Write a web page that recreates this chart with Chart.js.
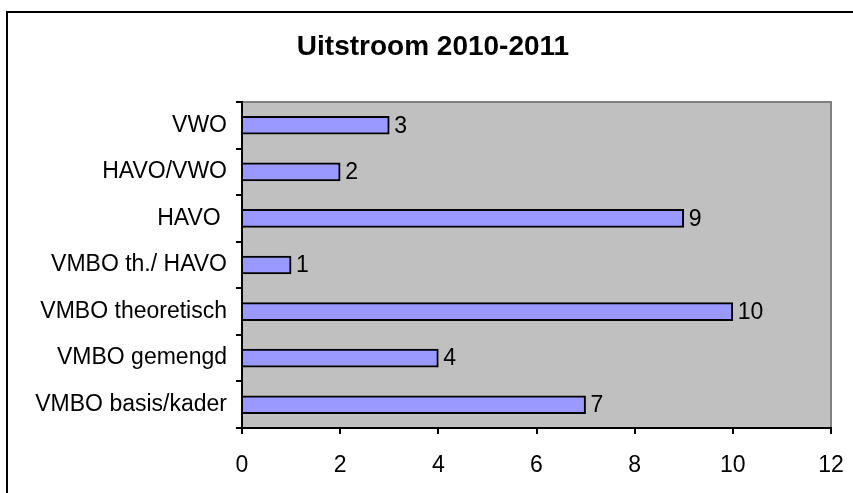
<!DOCTYPE html>
<html>
<head>
<meta charset="utf-8">
<script src="https://cdn.jsdelivr.net/npm/chart.js@4.4.1/dist/chart.umd.min.js"></script>
<style>
  html, body { margin: 0; padding: 0; background: #fff; }
  #chart { display: block; }
</style>
</head>
<body>
<canvas id="chart" width="853" height="493"></canvas>
<script>
  const categories = ['VWO', 'HAVO/VWO', 'HAVO ', 'VMBO th./ HAVO', 'VMBO theoretisch', 'VMBO gemengd', 'VMBO basis/kader'];
  const uitstroom = [3, 2, 9, 1, 10, 4, 7];
  const xTicks = [0, 2, 4, 6, 8, 10, 12];
  const titleText = 'Uitstroom 2010-2011';

  const FONT = "'Liberation Sans', Arial, sans-serif";

  // frame round the whole chart, grey plot area and the title
  const framePlugin = {
    id: 'frame',
    beforeDraw(chart) {
      const { ctx, chartArea: a } = chart;
      ctx.save();
      ctx.fillStyle = '#c0c0c0';
      ctx.fillRect(a.left, a.top, a.right - a.left, a.bottom - a.top);
      ctx.strokeStyle = '#808080';
      ctx.lineWidth = 2;
      ctx.beginPath();
      ctx.moveTo(a.left, a.top);
      ctx.lineTo(a.right, a.top);
      ctx.lineTo(a.right, a.bottom);
      ctx.stroke();
      ctx.strokeStyle = '#000';
      ctx.strokeRect(7, 12, 900, 600);

      ctx.font = 'bold 28px ' + FONT;
      ctx.fillStyle = '#000';
      ctx.textAlign = 'center';
      ctx.textBaseline = 'middle';
      ctx.fillText(titleText, 433, 47);
      ctx.restore();
    }
  };

  const valueLabels = {
    id: 'valueLabels',
    afterDatasetsDraw(chart) {
      const { ctx } = chart;
      ctx.save();
      ctx.font = '23px ' + FONT;
      ctx.fillStyle = '#000';
      ctx.textBaseline = 'middle';
      ctx.textAlign = 'left';
      chart.getDatasetMeta(0).data.forEach((bar, i) => {
        ctx.fillText(String(uitstroom[i]), bar.x + 5, bar.y + 1);
      });
      ctx.restore();
    }
  };

  new Chart(document.getElementById('chart'), {
    type: 'bar',
    data: {
      labels: categories,
      datasets: [{
        data: uitstroom,
        backgroundColor: '#9999ff',
        borderColor: '#000',
        borderWidth: 2,
        barThickness: 18
      }]
    },
    options: {
      indexAxis: 'y',
      responsive: false,
      animation: false,
      layout: { padding: { left: 0, right: 22, top: 102, bottom: 0 } },
      scales: {
        x: {
          min: 0,
          max: 12,
          afterBuildTicks: s => { s.ticks = xTicks.map(v => ({ value: v })); },
          afterFit: s => { s.height = 65; s.paddingLeft = 0; s.paddingRight = 0; },
          grid: { drawOnChartArea: false, tickLength: 6, color: '#000', lineWidth: 2 },
          border: { color: '#000', width: 2 },
          ticks: { color: '#000', font: { family: FONT, size: 23 }, padding: 18 }
        },
        y: {
          afterFit: s => { s.width = 242; s.paddingTop = 0; s.paddingBottom = 0; },
          grid: { drawOnChartArea: false, tickLength: 6, color: '#000', lineWidth: 2 },
          border: { color: '#000', width: 2 },
          ticks: { color: '#000', font: { family: FONT, size: 23 }, padding: 9 }
        }
      },
      plugins: {
        legend: { display: false },
        tooltip: { enabled: false },
        title: { display: false }
      }
    },
    plugins: [framePlugin, valueLabels]
  });
</script>
</body>
</html>
